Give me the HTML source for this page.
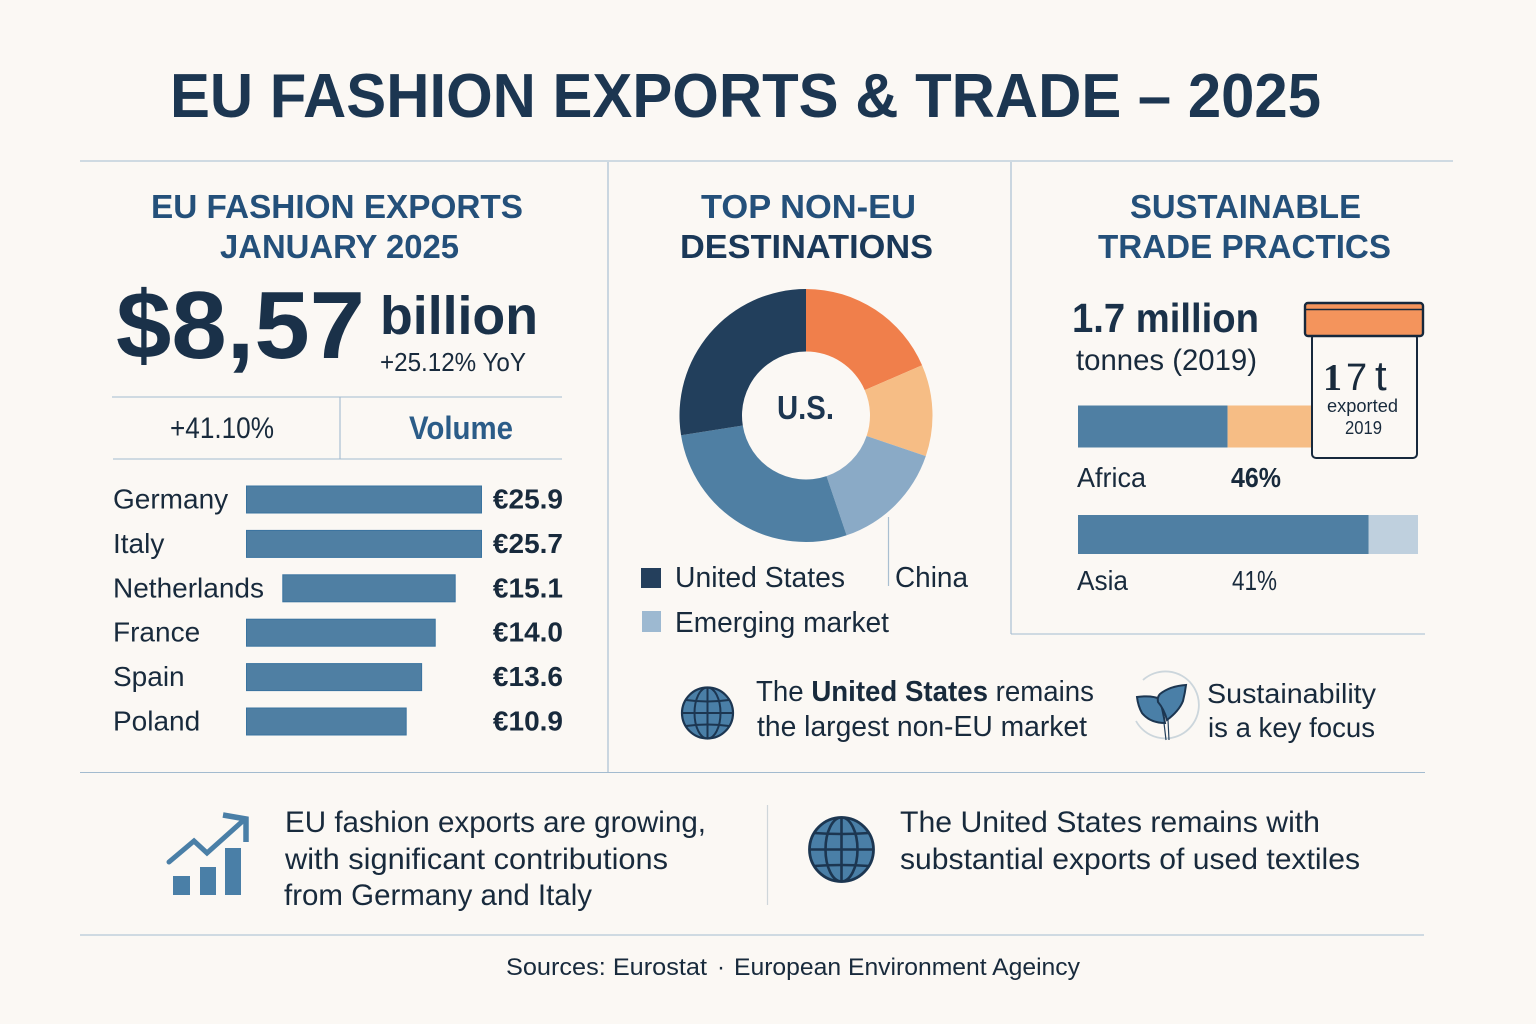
<!DOCTYPE html>
<html lang="en">
<head>
<meta charset="utf-8">
<title>EU Fashion Exports &amp; Trade – 2025</title>
<style>
html,body{margin:0;padding:0;background:#fbf8f4;}
svg{display:block;}
text{font-family:"Liberation Sans",Arial,sans-serif;fill:#182a3c;}
.b{font-weight:bold;}
.rule{stroke:#a3bbcf;stroke-width:1.100;fill:none;}
.hd{font-weight:bold;fill:#24507a;font-size:33px;}
.hd2{font-weight:bold;fill:#1a3858;font-size:33px;}
</style>
</head>
<body>
<svg xmlns="http://www.w3.org/2000/svg" width="1536" height="1024" viewBox="0 0 1536 1024">
<rect x="0" y="0" width="1536" height="1024" fill="#fbf8f4"/>

<text x="170" y="117" font-size="62" class="b" style="fill:#1c3651" textLength="1151" lengthAdjust="spacingAndGlyphs">EU FASHION EXPORTS &amp; TRADE – 2025</text>

<line class="rule" x1="80" y1="161" x2="1453" y2="161"/>
<line class="rule" x1="608" y1="162" x2="608" y2="772"/>
<line class="rule" x1="1011" y1="162" x2="1011" y2="634"/>
<line class="rule" x1="1011" y1="634" x2="1425" y2="634"/>
<line class="rule" x1="80" y1="772.500" x2="1425" y2="772.500"/>
<line class="rule" x1="80" y1="935" x2="1424" y2="935"/>
<line x1="767.500" y1="805" x2="767.500" y2="905" stroke="#cfd6da" stroke-width="1.200"/>

<!-- Left panel -->
<text x="151" y="218" class="hd" textLength="372" lengthAdjust="spacingAndGlyphs">EU FASHION EXPORTS</text>
<text x="220" y="258" class="hd" textLength="239" lengthAdjust="spacingAndGlyphs">JANUARY 2025</text>
<text x="116" y="358" font-size="96" class="b" style="fill:#1a3149" textLength="249" lengthAdjust="spacingAndGlyphs">$8,57</text>
<text x="380" y="334" font-size="54" class="b" style="fill:#1a3149" textLength="158" lengthAdjust="spacingAndGlyphs">billion</text>
<text x="380" y="371" font-size="26" textLength="146" lengthAdjust="spacingAndGlyphs">+25.12% YoY</text>
<line class="rule" x1="112" y1="397" x2="562" y2="397"/>
<line class="rule" x1="113" y1="459" x2="562" y2="459"/>
<line class="rule" x1="340" y1="397" x2="340" y2="459"/>
<text x="170" y="438" font-size="30" textLength="104" lengthAdjust="spacingAndGlyphs">+41.10%</text>
<text x="409" y="439" font-size="32" class="b" style="fill:#2b5c88" textLength="104" lengthAdjust="spacingAndGlyphs">Volume</text>
<g id="country-bars"></g>

<!-- Middle panel -->
<text x="701" y="218" class="hd" textLength="215" lengthAdjust="spacingAndGlyphs">TOP NON-EU</text>
<text x="680" y="258" class="hd2" textLength="253" lengthAdjust="spacingAndGlyphs">DESTINATIONS</text>
<g id="donut"></g>
<text x="777" y="419" font-size="33" class="b" style="fill:#1c3651" textLength="57" lengthAdjust="spacingAndGlyphs">U.S.</text>
<rect x="641" y="568" width="20" height="20" fill="#243f5c"/>
<text x="675" y="587" font-size="29" textLength="170" lengthAdjust="spacingAndGlyphs">United States</text>
<line x1="888.500" y1="517" x2="888.500" y2="586" stroke="#a9bfd1" stroke-width="1.200"/>
<text x="895" y="587" font-size="29" textLength="73" lengthAdjust="spacingAndGlyphs">China</text>
<rect x="642" y="611" width="19" height="21" fill="#9db9d1"/>
<text x="675" y="632" font-size="29" textLength="214" lengthAdjust="spacingAndGlyphs">Emerging market</text>

<!-- Right panel -->
<text x="1130" y="218" class="hd" textLength="231" lengthAdjust="spacingAndGlyphs">SUSTAINABLE</text>
<text x="1098" y="258" class="hd" textLength="293" lengthAdjust="spacingAndGlyphs">TRADE PRACTICS</text>
<text x="1072" y="332" font-size="41" class="b" style="fill:#1a3149" textLength="187" lengthAdjust="spacingAndGlyphs">1.7 million</text>
<text x="1076" y="370" font-size="30" textLength="181" lengthAdjust="spacingAndGlyphs">tonnes (2019)</text>
<g id="share-bars"></g>
<text x="1077" y="487" font-size="28" textLength="69" lengthAdjust="spacingAndGlyphs">Africa</text>
<text x="1231" y="487" font-size="28" class="b" textLength="50" lengthAdjust="spacingAndGlyphs">46%</text>
<text x="1077" y="590" font-size="28" textLength="51" lengthAdjust="spacingAndGlyphs">Asia</text>
<text x="1232" y="590" font-size="28" textLength="45" lengthAdjust="spacingAndGlyphs">41%</text>

<g>
  <rect x="1312" y="334" width="105" height="124" rx="4" fill="#fbf8f4" stroke="#16283c" stroke-width="2"/>
  <rect x="1305" y="303" width="118" height="33" rx="3" fill="#f4945c" stroke="#16283c" stroke-width="2.400"/>
  <line x1="1306" y1="309.500" x2="1422" y2="309.500" stroke="#16283c" stroke-width="1.600"/>
  <text y="390" font-size="38"><tspan x="1323" style="font-family:'Liberation Serif',serif;font-weight:bold">1</tspan><tspan x="1346">7</tspan><tspan x="1375" font-size="42">t</tspan></text>
  <text x="1327" y="412" font-size="18" textLength="71" lengthAdjust="spacingAndGlyphs">exported</text>
  <text x="1345" y="434" font-size="18" textLength="37" lengthAdjust="spacingAndGlyphs">2019</text>
</g>

<!-- Middle notes -->
<g fill="none" stroke="#1c3651">
  <circle cx="707.500" cy="713" r="25.500" fill="#4a7fa7" stroke-width="2.200"/>
  <ellipse cx="707.500" cy="713" rx="13" ry="25.500" stroke-width="2"/>
  <line x1="707.500" y1="687.500" x2="707.500" y2="738.500" stroke-width="2"/>
  <line x1="682" y1="713" x2="733" y2="713" stroke-width="2"/>
  <path d="M686 700Q707.500 703 729 700M686 726Q707.500 723 729 726" stroke-width="2"/>
</g>
<text x="756" y="701" font-size="29" textLength="338" lengthAdjust="spacingAndGlyphs">The <tspan class="b">United States</tspan> remains</text>
<text x="757" y="736" font-size="29" textLength="330" lengthAdjust="spacingAndGlyphs">the largest non-EU market</text>
<g>
  <path d="M1143 680A33.500 33.500 0 1 1 1136 721" fill="none" stroke="#ccd6dc" stroke-width="1.800"/>
  <path d="M1137 697Q1152 695 1160 699Q1163 712 1165 723Q1150 723 1142 713Q1138 706 1137 697Z" fill="#4a7fa7" stroke="#1c3651" stroke-width="2"/>
  <path d="M1186 685Q1170 686 1160 694Q1157 697 1158 702Q1164 709 1167 720Q1179 711 1183 701Q1185 693 1186 685Z" fill="#4a7fa7" stroke="#1c3651" stroke-width="2"/>
  <path d="M1164 723L1166 740M1168 720L1169 740" stroke="#24405c" stroke-width="1.200" fill="none"/>
</g>
<text x="1207" y="703" font-size="28" textLength="169" lengthAdjust="spacingAndGlyphs">Sustainability</text>
<text x="1208" y="737" font-size="28" textLength="167" lengthAdjust="spacingAndGlyphs">is a key focus</text>

<!-- Bottom takeaways -->
<g fill="#4a7fa7">
  <rect x="173" y="876" width="17" height="19"/>
  <rect x="200" y="867" width="16" height="28"/>
  <rect x="225" y="848" width="16" height="47"/>
  <path d="M169 862L194 841L207 853L245 819" fill="none" stroke="#4a7fa7" stroke-width="5" stroke-linecap="round"/>
  <path d="M223 815L246 819L246 842" fill="none" stroke="#4a7fa7" stroke-width="5.500"/>
</g>
<text x="285" y="832" font-size="29.500" textLength="421" lengthAdjust="spacingAndGlyphs">EU fashion exports are growing,</text>
<text x="285" y="869" font-size="29.500" textLength="383" lengthAdjust="spacingAndGlyphs">with significant contributions</text>
<text x="284" y="905" font-size="29.500" textLength="308" lengthAdjust="spacingAndGlyphs">from Germany and Italy</text>
<g fill="none" stroke="#1c3651">
  <circle cx="841.500" cy="849.500" r="32" fill="#4a7fa7" stroke-width="2.800"/>
  <ellipse cx="841.500" cy="849.500" rx="16" ry="32" stroke-width="2.600"/>
  <line x1="841.500" y1="817.500" x2="841.500" y2="881.500" stroke-width="2.600"/>
  <line x1="809.500" y1="849.500" x2="873.500" y2="849.500" stroke-width="2.600"/>
  <path d="M814 833Q841.500 835 869 833M814 866Q841.500 864 869 866" stroke-width="2.600"/>
</g>
<text x="900" y="832" font-size="29.500" textLength="420" lengthAdjust="spacingAndGlyphs">The United States remains with</text>
<text x="900" y="869" font-size="29.500" textLength="460" lengthAdjust="spacingAndGlyphs">substantial exports of used textiles</text>

<text x="506" y="975" font-size="24" textLength="201" lengthAdjust="spacingAndGlyphs">Sources: Eurostat</text>
<text x="717" y="975" font-size="24">·</text>
<text x="734" y="975" font-size="24" textLength="346" lengthAdjust="spacingAndGlyphs">European Environment Ageincy</text>
</svg>

<script>
// Country bars: categories, drawn extent of each bar (axis units), printed labels
const countries = ['Germany', 'Italy', 'Netherlands', 'France', 'Spain', 'Poland'];
const barStartValues = [0, 0, 4, 0, 0, 0];
const barEndValues = [25.9, 25.9, 23, 20.8, 19.3, 17.6];
const printedValues = ['€25.9', '€25.7', '€15.1', '€14.0', '€13.6', '€10.9'];

// Donut: clockwise from 12 o'clock, percent of ring
const donutSegments = ['Orange segment', 'Light orange segment', 'Emerging market', 'Mid blue segment', 'United States'];
const donutShares = [18.5, 11.7, 14.6, 27.7, 27.5];

// Region share bars: percent of full bar
const shareRegions = ['Africa', 'Asia'];
const sharePrimary = [44, 85.5];
const shareSecondary = [56, 14.5];

const NS = 'http://www.w3.org/2000/svg';
function mk(tag, attrs, parent) {
  const el = document.createElementNS(NS, tag);
  for (const k in attrs) el.setAttribute(k, attrs[k]);
  parent.appendChild(el);
  return el;
}

// Country bar axes
function xCountry(v) { return 246.5 + v * 235 / 25.9; }
function yCountry(i) { return 486 + i * 44.4; }
const countryGroup = document.getElementById('country-bars');
countries.forEach(function (name, i) {
  const y = yCountry(i);
  const label = mk('text', { x: 113, y: y + 22.5, 'font-size': 28 }, countryGroup);
  label.textContent = name;
  
  
  const bar = mk('rect', {
    x: xCountry(barStartValues[i]), y: y,
    width: xCountry(barEndValues[i]) - xCountry(barStartValues[i]), height: 27,
    fill: '#4f7fa3', stroke: '#3a739f', 'stroke-width': 1
  }, countryGroup);
  
  
  const value = mk('text', { x: 563, y: y + 22.5, 'font-size': 28, 'text-anchor': 'end', 'font-weight': 'bold' }, countryGroup);
  value.textContent = printedValues[i];
  
  
});

// Donut axis
const donutColors = ['#f07f4b', '#f6bd85', '#8aaac6', '#4f7fa3', '#223f5c'];
function angleOf(share) { return share / 100 * 2 * Math.PI; }
function ringPoint(a, r) { return [806 + r * Math.sin(a), 415.5 - r * Math.cos(a)]; }
const donutGroup = document.getElementById('donut');
const donutTotal = donutShares.reduce(function (s, v) { return s + v; }, 0);
let cumulative = 0;
donutShares.forEach(function (share, i) {
  const a0 = angleOf(cumulative / donutTotal * 100);
  cumulative += share;
  const a1 = angleOf(cumulative / donutTotal * 100);
  const large = a1 - a0 > Math.PI ? 1 : 0;
  const p0 = ringPoint(a0, 126.5), p1 = ringPoint(a1, 126.5), p2 = ringPoint(a1, 64), p3 = ringPoint(a0, 64);
  const d = 'M' + p0 + 'A126.5 126.5 0 ' + large + ' 1 ' + p1 + 'L' + p2 + 'A64 64 0 ' + large + ' 0 ' + p3 + 'Z';
  const slice = mk('path', { d: d, fill: donutColors[i] }, donutGroup);
  
  
  const t = mk('title', {}, slice);
  t.textContent = donutSegments[i];
});

// Region share bars axis
function xShare(v) { return 1078 + v * 3.4; }
function yShare(i) { return [405.5, 515][i]; }
function hShare(i) { return [42, 39][i]; }
const shareColors = ['#f6bd85', '#bfd0de'];
const shareGroup = document.getElementById('share-bars');
shareRegions.forEach(function (region, i) {
  const primary = mk('rect', { x: xShare(0), y: yShare(i), width: xShare(sharePrimary[i]) - xShare(0), height: hShare(i), fill: '#4f7fa3' }, shareGroup);
  
  
  const secondary = mk('rect', { x: xShare(sharePrimary[i]), y: yShare(i), width: xShare(sharePrimary[i] + shareSecondary[i]) - xShare(sharePrimary[i]), height: hShare(i), fill: shareColors[i] }, shareGroup);
  
  
});
</script>
</body>
</html>
